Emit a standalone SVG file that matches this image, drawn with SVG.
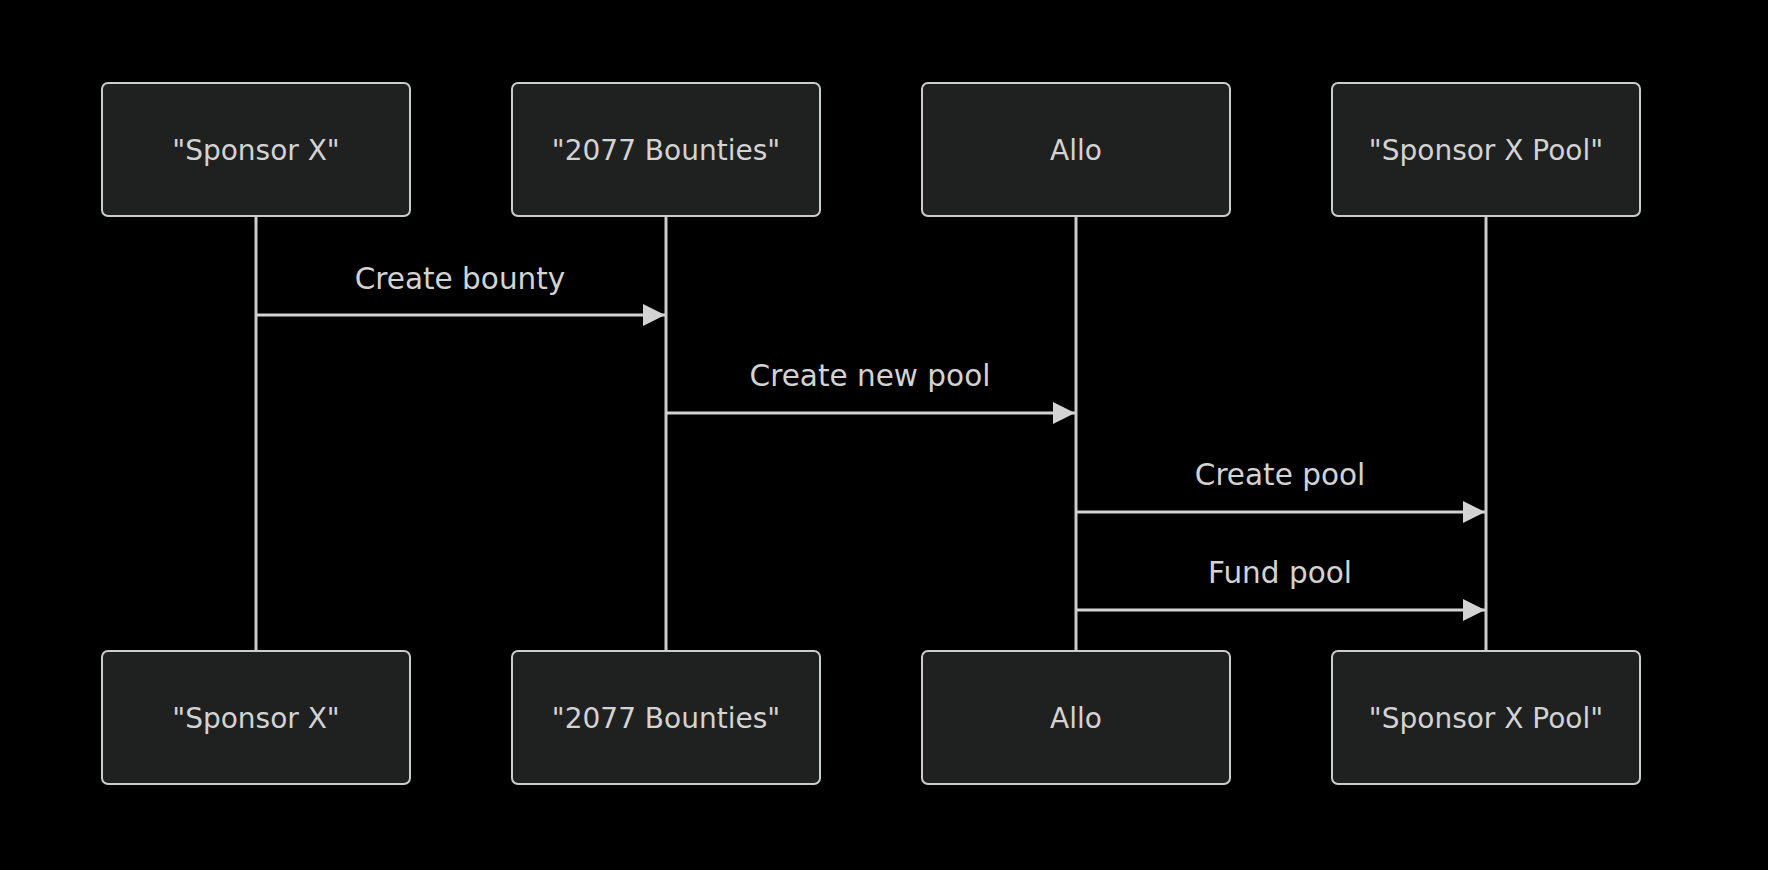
<svg xmlns="http://www.w3.org/2000/svg" width="1768" height="870" viewBox="0 0 1768 870">
<style>
.actor rect{fill:#1f2020;stroke:#cccccc;stroke-width:2}
.actor text{fill:#d3d3d3;font-family:"DejaVu Sans","Liberation Sans",sans-serif;font-size:28px;text-anchor:middle;dominant-baseline:central}
.life{stroke:#cccccc;stroke-width:3}
.msg{stroke:#d3d3d3;stroke-width:3;fill:none}
.lbl{fill:#d3d3d3;font-family:"DejaVu Sans","Liberation Sans",sans-serif;font-size:29.5px;text-anchor:middle}
</style>
<defs>
<marker id="arrow" viewBox="0 0 10 10" refX="10" refY="5" markerUnits="userSpaceOnUse" markerWidth="24" markerHeight="22" orient="auto">
<path d="M0,0 L10,5 L0,10 z" fill="#d3d3d3"/>
</marker>
</defs>
<rect width="1768" height="870" fill="#000000"/>
<g id="lifelines">
<line class="life" x1="256" y1="216" x2="256" y2="651"/>
<line class="life" x1="666" y1="216" x2="666" y2="651"/>
<line class="life" x1="1076" y1="216" x2="1076" y2="651"/>
<line class="life" x1="1486" y1="216" x2="1486" y2="651"/>
</g>
<g id="sponsor-top" class="actor"><rect x="102" y="83" width="308" height="133" rx="6"/><text x="256" y="150">"Sponsor X"</text></g>
<g id="bounties-top" class="actor"><rect x="512" y="83" width="308" height="133" rx="6"/><text x="666" y="150">"2077 Bounties"</text></g>
<g id="allo-top" class="actor"><rect x="922" y="83" width="308" height="133" rx="6"/><text x="1076" y="150">Allo</text></g>
<g id="pool-top" class="actor"><rect x="1332" y="83" width="308" height="133" rx="6"/><text x="1486" y="150">"Sponsor X Pool"</text></g>
<g id="sponsor-bottom" class="actor"><rect x="102" y="651" width="308" height="133" rx="6"/><text x="256" y="718">"Sponsor X"</text></g>
<g id="bounties-bottom" class="actor"><rect x="512" y="651" width="308" height="133" rx="6"/><text x="666" y="718">"2077 Bounties"</text></g>
<g id="allo-bottom" class="actor"><rect x="922" y="651" width="308" height="133" rx="6"/><text x="1076" y="718">Allo</text></g>
<g id="pool-bottom" class="actor"><rect x="1332" y="651" width="308" height="133" rx="6"/><text x="1486" y="718">"Sponsor X Pool"</text></g>
<g id="connectors">
<line class="msg" x1="257" y1="315" x2="665" y2="315" marker-end="url(#arrow)"/>
<text class="lbl" x="460" y="289">Create bounty</text>
<line class="msg" x1="667" y1="413" x2="1075" y2="413" marker-end="url(#arrow)"/>
<text class="lbl" x="870" y="386">Create new pool</text>
<line class="msg" x1="1077" y1="512" x2="1485" y2="512" marker-end="url(#arrow)"/>
<text class="lbl" x="1280" y="485">Create pool</text>
<line class="msg" x1="1077" y1="610" x2="1485" y2="610" marker-end="url(#arrow)"/>
<text class="lbl" x="1280" y="583">Fund pool</text>
</g>
</svg>
